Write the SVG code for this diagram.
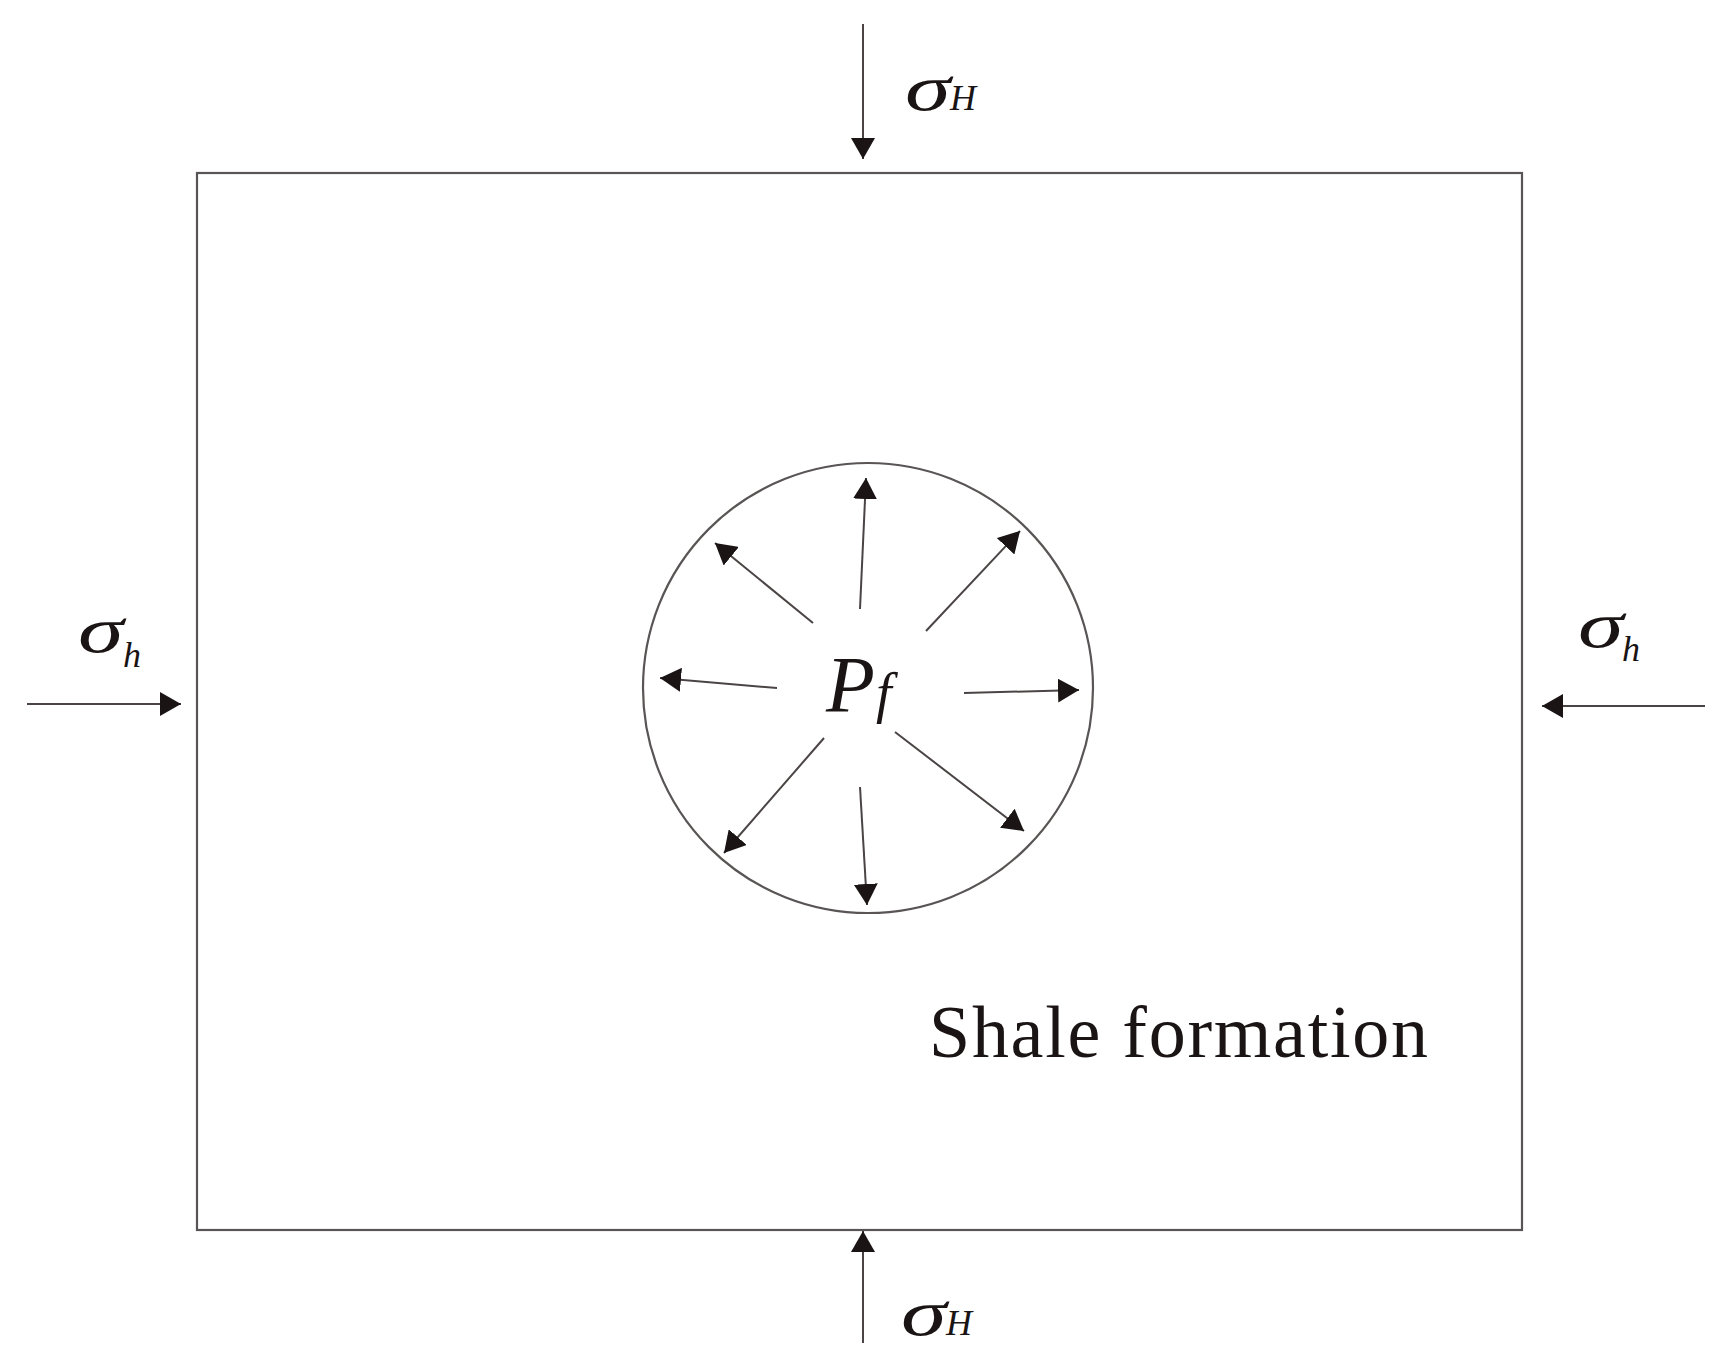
<svg xmlns="http://www.w3.org/2000/svg" width="1733" height="1366" viewBox="0 0 1733 1366">
<style>
.ln{stroke:#5a5555;stroke-width:2.2;fill:none}
.ar{stroke:#4a4444;stroke-width:2;fill:none;marker-end:url(#ah)}
.t{font-family:"Liberation Serif","Times New Roman",serif;fill:#1a1414}
.sig{font-size:66px;font-style:italic}
.sub{font-size:36px;font-style:italic}
</style>
<defs>
<marker id="ah" viewBox="0 0 21 24" refX="21" refY="12" markerWidth="21" markerHeight="24" markerUnits="userSpaceOnUse" orient="auto">
<path d="M0,0 L21,12 L0,24 Z" fill="#1a1414"/>
</marker>
</defs>
<rect width="1733" height="1366" fill="#ffffff"/>
<g id="formation">
<rect class="ln" x="197" y="173" width="1325" height="1057"/>
<text class="t" x="929" y="1057" font-size="74" textLength="499">Shale formation</text>
</g>
<g id="wellbore">
<circle class="ln" cx="868" cy="688" r="225"/>
<text class="t" x="826" y="712" font-size="80" font-style="italic">P</text>
<text class="t" x="876" y="712" font-size="56" font-style="italic">f</text>
</g>
<g id="label-top"><text class="t sig" transform="translate(905,110) scale(1.4,1)">σ</text><text class="t sub" x="950" y="110">H</text></g>
<g id="label-bottom"><text class="t sig" transform="translate(901,1335) scale(1.4,1)">σ</text><text class="t sub" x="946" y="1335">H</text></g>
<g id="label-left"><text class="t sig" transform="translate(78,652) scale(1.4,1)">σ</text><text class="t sub" x="123" y="667">h</text></g>
<g id="label-right"><text class="t sig" transform="translate(1578,647) scale(1.4,1)">σ</text><text class="t sub" x="1622" y="661">h</text></g>
<g id="connectors">
<line class="ar" x1="863" y1="24" x2="863" y2="159"/>
<line class="ar" x1="863" y1="1343" x2="863" y2="1231"/>
<line class="ar" x1="27" y1="704" x2="181" y2="704"/>
<line class="ar" x1="1705" y1="706" x2="1542" y2="706"/>
<line class="ar" x1="860" y1="609" x2="866" y2="478"/>
<line class="ar" x1="813" y1="623" x2="715" y2="543"/>
<line class="ar" x1="926" y1="631" x2="1020" y2="531"/>
<line class="ar" x1="777" y1="688" x2="660" y2="678"/>
<line class="ar" x1="964" y1="693" x2="1079" y2="690"/>
<line class="ar" x1="824" y1="738" x2="724" y2="853"/>
<line class="ar" x1="860" y1="787" x2="867" y2="905"/>
<line class="ar" x1="895" y1="732" x2="1024" y2="831"/>
</g>
</svg>
